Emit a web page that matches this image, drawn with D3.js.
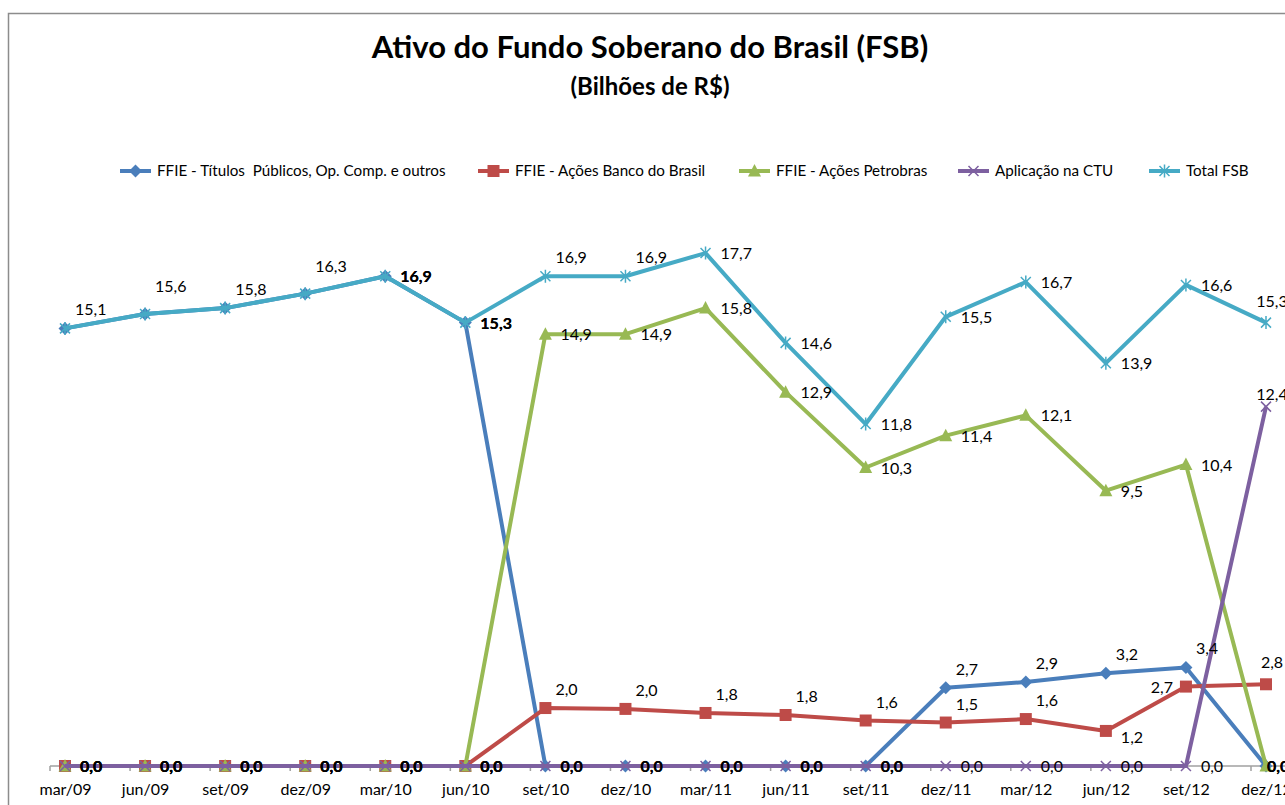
<!DOCTYPE html>
<html>
<head>
<meta charset="utf-8">
<script src="https://cdn.jsdelivr.net/npm/d3@7"></script>
<style>
  body { margin: 0; background: #fff; }
  svg { font-family: Lato, "Open Sans", sans-serif; }
</style>
</head>
<body>
<div id="chart"></div>
<script>
// chart data (bilhoes de R$)
var categories = ["mar/09", "jun/09", "set/09", "dez/09", "mar/10", "jun/10", "set/10", "dez/10",
  "mar/11", "jun/11", "set/11", "dez/11", "mar/12", "jun/12", "set/12", "dez/12"];

var titulos   = [15.1, 15.6, 15.8, 16.3, 16.9, 15.3, 0, 0, 0, 0, 0, 2.7, 2.9, 3.2, 3.4, 0];
var bancoBr   = [0, 0, 0, 0, 0, 0, 2.0, 1.97, 1.83, 1.76, 1.57, 1.5, 1.62, 1.21, 2.74, 2.82];
var petrobras = [0, 0, 0, 0, 0, 0, 14.9, 14.9, 15.8, 12.9, 10.3, 11.4, 12.1, 9.5, 10.4, 0];
var ctu       = [0, 0, 0, 0, 0, 0, 0, 0, 0, 0, 0, 0, 0, 0, 0, 12.4];
var totalFsb  = [15.1, 15.6, 15.8, 16.3, 16.9, 15.3, 16.9, 16.9, 17.7, 14.6, 11.8, 15.5, 16.7, 13.9, 16.6, 15.3];

// where each data label sits (r = right, ar = above right, a = above, l = left, null = none)
var lblTitulos   = [null, null, null, null, "r", "r", "r", "r", "r", "r", "r", "ar", "ar", "ar", "ar", "r0"];
var lblBanco     = ["r", "r", "r", "r", "r", "r", "ar", "ar", "ar", "ar", "ar", "ar", "ar", "rb", "l", "a"];
var lblPetro     = ["r", "r", "r", "r", "r", "r", "r", "r", "r", "r", "r", "r", "r", "r", "r", "r0"];
var lblCtu       = ["r", "r", "r", "r", "r", "r", "r", "r", "r", "r", "r", "r", "r", "r", "r", "a2"];
var lblTotal     = ["ar", "ar2", "ar", "ar2", "r", "r", "ar", "ar", "r", "r", "r", "r", "r", "r", "r", "a"];

var series = [
  {name: "FFIE - Títulos  Públicos, Op. Comp. e outros", values: titulos, labels: lblTitulos, color: "#4A7EBB", marker: "diamond"},
  {name: "FFIE - Ações Banco do Brasil", values: bancoBr, labels: lblBanco, color: "#BE4B48", marker: "square"},
  {name: "FFIE - Ações Petrobras", values: petrobras, labels: lblPetro, color: "#98B954", marker: "triangle"},
  {name: "Aplicação na CTU", values: ctu, labels: lblCtu, color: "#7D60A0", marker: "x"},
  {name: "Total FSB", values: totalFsb, labels: lblTotal, color: "#46AAC5", marker: "star"}
];

var svgWidth = 1285;
var svgHeight = 805;

var svg = d3.select("#chart")
  .append("svg")
  .attr("width", svgWidth)
  .attr("height", svgHeight);

// chart border
svg.append("path")
  .attr("d", "M8.5,805 L8.5,13.5 L1285,13.5")
  .attr("fill", "none")
  .attr("stroke", "#8c8c8c")
  .attr("stroke-width", 1.5);

// titles
svg.append("text")
  .attr("x", 650)
  .attr("y", 58)
  .attr("text-anchor", "middle")
  .style("font-size", "31px")
  .style("font-weight", "bold")
  .text("Ativo do Fundo Soberano do Brasil (FSB)");

svg.append("text")
  .attr("x", 650)
  .attr("y", 95)
  .attr("text-anchor", "middle")
  .style("font-size", "24px")
  .style("font-weight", "bold")
  .text("(Bilhões de R$)");

// scales
var xScale = d3.scalePoint()
  .domain(categories)
  .range([65, 1266]);

var yScale = d3.scaleLinear()
  .domain([0, 20])
  .range([766, 186.4]);

// x axis
var axisY = yScale(0);
svg.append("line")
  .attr("x1", 50).attr("x2", svgWidth)
  .attr("y1", axisY).attr("y2", axisY)
  .attr("stroke", "#a0a0a0")
  .attr("stroke-width", 1.5);

svg.selectAll(".tickmark")
  .data(categories)
  .enter()
  .append("line")
  .attr("class", "tickmark")
  .attr("x1", d => xScale(d) - 15)
  .attr("x2", d => xScale(d) - 15)
  .attr("y1", axisY)
  .attr("y2", axisY + 5)
  .attr("stroke", "#a0a0a0")
  .attr("stroke-width", 1.5);

var xAxis = svg.append("g")
  .attr("transform", `translate(0, ${axisY})`)
  .call(d3.axisBottom(xScale).tickSize(0).tickPadding(18));
xAxis.select(".domain").remove();
xAxis.selectAll("text")
  .style("font-size", "16px")
  .style("font-family", "Lato, sans-serif")
  .attr("fill", "#000");

// marker shapes
function markerPath(type) {
  if (type === "diamond") return "M0,-6.5 L6.5,0 L0,6.5 L-6.5,0 Z";
  if (type === "square") return "M-6,-6 L6,-6 L6,6 L-6,6 Z";
  if (type === "triangle") return "M0,-7 L6.5,5.5 L-6.5,5.5 Z";
  if (type === "x") return "M-5,-5 L5,5 M-5,5 L5,-5";
  return "M-5,-5 L5,5 M-5,5 L5,-5 M0,-6.5 L0,6.5";
}
function drawMarker(g, s) {
  var stroked = s.marker === "x" || s.marker === "star";
  g.append("path")
    .attr("d", markerPath(s.marker))
    .attr("fill", stroked ? "none" : s.color)
    .attr("stroke", s.color)
    .attr("stroke-width", stroked ? 1.5 : 0);
}

var line = d3.line()
  .x((d, i) => xScale(categories[i]))
  .y(d => yScale(d));

// lines and markers
series.forEach(function(s) {
  var g = svg.append("g");
  g.append("path")
    .datum(s.values)
    .attr("d", line)
    .attr("fill", "none")
    .attr("stroke", s.color)
    .attr("stroke-width", 4)
    .attr("stroke-linejoin", "round");

  g.selectAll(".mk")
    .data(s.values)
    .enter()
    .append("g")
    .attr("transform", (d, i) => `translate(${xScale(categories[i])}, ${yScale(d)})`)
    .each(function() { drawMarker(d3.select(this), s); });
});

// data labels
var fmt = v => d3.format(".1f")(v).replace(".", ",");
var placement = {
  r:   {dx: 15, dy: 6, anchor: "start"},
  r0:  {dx: 1, dy: 6, anchor: "start"},
  rb:  {dx: 15, dy: 12, anchor: "start"},
  ar:  {dx: 10, dy: -13, anchor: "start"},
  ar2: {dx: 10, dy: -22, anchor: "start"},
  l:   {dx: -13, dy: 6, anchor: "end"},
  a:   {dx: 6, dy: -16, anchor: "middle"},
  a2:  {dx: 6, dy: -7, anchor: "middle"}
};
var labels = [];
series.forEach(function(s) {
  s.values.forEach(function(v, i) {
    var p = s.labels[i];
    if (!p) return;
    var pl = placement[p];
    labels.push({
      text: fmt(v),
      x: xScale(categories[i]) + pl.dx,
      y: yScale(v) + pl.dy,
      anchor: pl.anchor
    });
  });
});
// stacked labels at the same spot print darker, so show them bold
labels.forEach(function(l) {
  l.count = labels.filter(o => o.text === l.text && Math.abs(o.x - l.x) < 1 && Math.abs(o.y - l.y) < 3).length;
});

svg.append("g")
  .selectAll("text")
  .data(labels)
  .join("text")
  .attr("x", d => d.x)
  .attr("y", d => d.y)
  .attr("text-anchor", d => d.anchor)
  .style("font-size", "16px")
  .style("font-weight", d => d.count > 1 ? "bold" : "normal")
  .text(d => d.text);

// legend
var legendX = [120, 478, 739, 958, 1149];
var legend = svg.append("g");
series.forEach(function(s, i) {
  var g = legend.append("g")
    .attr("transform", `translate(${legendX[i]}, 171)`);
  g.append("line")
    .attr("x1", 0).attr("x2", 31)
    .attr("stroke", s.color)
    .attr("stroke-width", 4);
  var m = g.append("g").attr("transform", "translate(15.5, 0)");
  drawMarker(m, s);
  g.append("text")
    .attr("x", 37)
    .attr("y", 5)
    .style("font-size", "15.2px")
    .style("white-space", "pre")
    .text(s.name);
});
</script>
</body>
</html>
